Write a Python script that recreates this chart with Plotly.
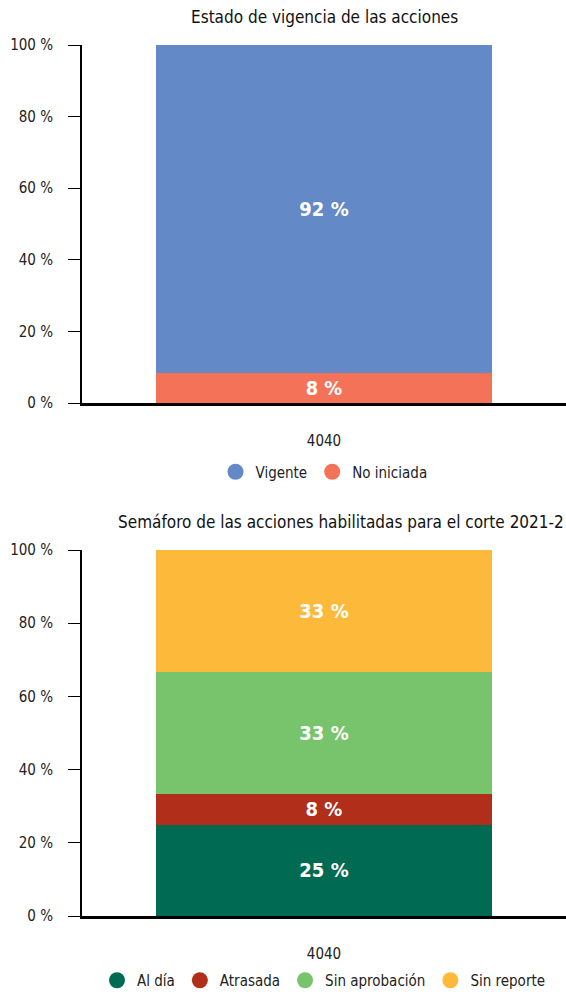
import plotly.graph_objects as go

category = ["4040"]

# Chart 1: Estado de vigencia
vig_names = ["No iniciada", "Vigente"]
vig_values = [8.33, 91.67]
vig_colors = ["#F47358", "#6389C6"]
vig_legend_order = ["Vigente", "No iniciada"]

# Chart 2: Semáforo
sem_names = ["Al día", "Atrasada", "Sin aprobación", "Sin reporte"]
sem_values = [25.0, 8.33, 33.33, 33.34]
sem_colors = ["#006B52", "#B02E1A", "#78C46C", "#FDB93A"]

y_ticks = [0, 20, 40, 60, 80, 100]
y_tick_text = ["0 %", "20 %", "40 %", "60 %", "80 %", "100 %"]

FONT = "DejaVu Sans Condensed, Liberation Sans Narrow, sans-serif"
H = 997.0

fig = go.Figure()

for n, v, c in zip(vig_names, vig_values, vig_colors):
    fig.add_trace(go.Bar(x=category, y=[v], name=n, marker_color=c, marker_line_width=0,
                         texttemplate="<b>%{y:.0f} %</b>", textposition="inside", insidetextanchor="middle",
                         textfont=dict(color="white", size=20, family=FONT),
                         xaxis="x", yaxis="y", showlegend=False, hoverinfo="y+name"))
for n in vig_legend_order:
    c = vig_colors[vig_names.index(n)]
    fig.add_trace(go.Scatter(x=[None], y=[None], mode="markers", name=n,
                             marker=dict(symbol="circle", size=17, color=c),
                             xaxis="x", yaxis="y", legend="legend"))

for n, v, c in zip(sem_names, sem_values, sem_colors):
    fig.add_trace(go.Bar(x=category, y=[v], name=n, marker_color=c, marker_line_width=0,
                         texttemplate="<b>%{y:.0f} %</b>", textposition="inside", insidetextanchor="middle",
                         textfont=dict(color="white", size=20, family=FONT),
                         xaxis="x2", yaxis="y2", showlegend=False, hoverinfo="y+name"))
for n, c in zip(sem_names, sem_colors):
    fig.add_trace(go.Scatter(x=[None], y=[None], mode="markers", name=n,
                             marker=dict(symbol="circle", size=17, color=c),
                             xaxis="x2", yaxis="y2", legend="legend2"))

yax = dict(range=[0, 100], tickmode="array", tickvals=y_ticks, ticktext=y_tick_text,
           showgrid=False, zeroline=False,
           showline=True, linecolor="black", linewidth=2, ticks="outside", ticklen=12,
           tickcolor="black", tickwidth=1, tickfont=dict(size=15, family=FONT, color="#222"),
           ticklabelstandoff=12, fixedrange=True, automargin=False)
xax = dict(showline=True, linecolor="black", linewidth=3, ticks="", showgrid=False,
           tickfont=dict(size=15, family=FONT, color="#222"), ticklabelstandoff=22,
           fixedrange=True, automargin=False)

fig.update_layout(
    width=566, height=997,
    margin=dict(l=82, r=0, t=0, b=0),
    paper_bgcolor="white", plot_bgcolor="white",
    barmode="stack", bargap=0.304,
    font=dict(family=FONT, color="#222"),
    xaxis=dict(**xax, domain=[0, 1], anchor="y"),
    yaxis=dict(**yax, domain=[1 - 403 / H, 1 - 45 / H], anchor="x"),
    xaxis2=dict(**xax, domain=[0, 1], anchor="y2"),
    yaxis2=dict(**yax, domain=[1 - 916 / H, 1 - 550 / H], anchor="x2"),
    legend=dict(orientation="h", x=0.5, xanchor="center", y=1 - 472 / H, yanchor="middle",
                traceorder="normal",
                font=dict(size=15, family=FONT, color="#222"), itemsizing="trace"),
    legend2=dict(orientation="h", x=0.5, xanchor="center", y=0, yanchor="bottom",
                 traceorder="normal",
                 font=dict(size=15, family=FONT, color="#222"), itemsizing="trace"),
    annotations=[
        dict(text="Estado de vigencia de las acciones", xref="paper", yref="paper",
             x=0.5, y=1 - 17 / H, xanchor="center", yanchor="middle", showarrow=False,
             font=dict(size=17, family=FONT, color="#111")),
        dict(text="Semáforo de las acciones habilitadas para el corte 2021-2", xref="paper", yref="paper",
             x=1, y=1 - 522 / H, xanchor="right", yanchor="middle", showarrow=False,
             font=dict(size=17, family=FONT, color="#111")),
    ],
)

fig.write_html("out.html", config={"displayModeBar": False},
               post_script="document.body.style.margin='0';")
